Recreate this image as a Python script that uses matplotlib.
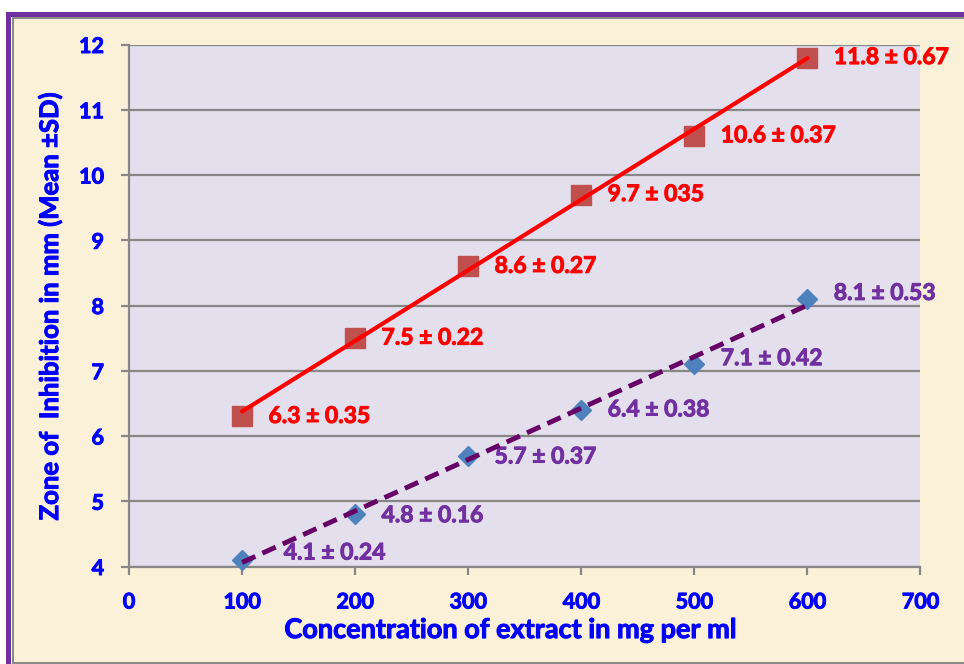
import numpy as np
import matplotlib.pyplot as plt
import matplotlib.patheffects as pe
from matplotlib.patches import Rectangle

# data
conc = [100, 200, 300, 400, 500, 600]
zone_red = [6.3, 7.5, 8.6, 9.7, 10.6, 11.8]
sd_red = ["0.35", "0.22", "0.27", "035", "0.37", "0.67"]
zone_purple = [4.1, 4.8, 5.7, 6.4, 7.1, 8.1]
sd_purple = ["0.24", "0.16", "0.37", "0.38", "0.42", "0.53"]

plt.rcParams['font.family'] = ['Lato', 'DejaVu Sans']
WT = 'bold'

def heavy(color):
    # thin same-colour outline to get a heavier look
    return [pe.withStroke(linewidth=0.7, foreground=color)]

W, H = 964, 664
fig = plt.figure(figsize=(W / 100, H / 100), dpi=100, facecolor='white')

def px(x0, y0, w, h, **kw):
    # rectangle in pixel units, y from the top, drawn behind the axes
    fig.patches.append(Rectangle((x0 / W, 1 - (y0 + h) / H), w / W, h / H,
                                 transform=fig.transFigure, zorder=-5, **kw))

# parchment background with purple / gray frame
px(12, 16, W - 12, H - 16, facecolor='#FBF0D8', edgecolor='none')
px(6, 12, W - 6, 5, facecolor='#7030A0', edgecolor='none')
px(6, 12, 5, H - 12, facecolor='#7030A0', edgecolor='none')
px(12, 17, W - 12, 1.5, facecolor='#8A8A8A', edgecolor='none')
px(12, 17, 1.5, H - 17, facecolor='#8A8A8A', edgecolor='none')
px(12, H - 2, W - 12, 2, facecolor='#8A8A8A', edgecolor='none')

ax = fig.add_axes([129 / W, 1 - 566.5 / H, (920.5 - 129) / W, (566.5 - 44.5) / H])
ax.set_facecolor('#E4DFEC')
ax.set_xlim(0, 700)
ax.set_ylim(4, 12)
ax.set_xticks(range(0, 701, 100))
ax.set_yticks(range(4, 13))
ax.grid(axis='y', color='#878787', linewidth=1.6)
ax.set_axisbelow(True)
for s in ['top', 'right']:
    ax.spines[s].set_visible(False)
for s in ['left', 'bottom']:
    ax.spines[s].set_color('#878787')
    ax.spines[s].set_linewidth(1.6)
ax.tick_params(colors='#878787', length=6, width=1.6, direction='out')
ax.tick_params(axis='y', labelcolor='#0000FF', labelsize=15.5, pad=12)
ax.tick_params(axis='x', labelcolor='#0000FF', labelsize=15.5, pad=12)
for lbl in ax.get_xticklabels() + ax.get_yticklabels():
    lbl.set_fontweight(WT)
    lbl.set_path_effects(heavy('#0000FF'))

ax.set_xlabel('Concentration of extract in mg per ml', color='#0000FF',
              fontsize=19.5, fontweight=WT, labelpad=4,
              path_effects=heavy('#0000FF'))
ax.xaxis.label.set_x(0.482)  # title sits a bit left of centre
ax.set_ylabel('Zone of  Inhibition in mm (Mean \u00b1SD)', color='#0000FF',
              fontsize=18.5, fontweight=WT, labelpad=12,
              path_effects=heavy('#0000FF'))

x = np.array(conc)

# markers
ax.plot(x, zone_red, 's', color='#C0504D', markersize=14, zorder=3, clip_on=False)
ax.plot(x, zone_purple, 'D', color='#4F81BD', markersize=10, zorder=3, clip_on=False)

# linear trendlines
for ys, style, col, lw in [(zone_red, '-', '#FF0000', 3),
                           (zone_purple, (0, (3, 1.6)), '#660066', 3.5)]:
    k, b = np.polyfit(x, ys, 1)
    ax.plot(x[[0, -1]], k * x[[0, -1]] + b, linestyle=style, color=col,
            linewidth=lw, zorder=4, solid_capstyle='round', dash_capstyle='butt')

# value labels
for xi, yi, sd in zip(conc, zone_red, sd_red):
    ax.annotate(f'{yi} \u00b1 {sd}', (xi, yi), xytext=(19, 0), textcoords='offset points',
                ha='left', va='center', color='#FF0000', fontsize=16.5, fontweight=WT,
                path_effects=heavy('#FF0000'))
purple_offsets = [(30, 5), (19, -1), (19, -1), (19, 0), (19, 4), (19, 4)]
for xi, yi, sd, off in zip(conc, zone_purple, sd_purple, purple_offsets):
    ax.annotate(f'{yi} \u00b1 {sd}', (xi, yi), xytext=off, textcoords='offset points',
                ha='left', va='center', color='#7030A0', fontsize=16.5, fontweight=WT,
                path_effects=heavy('#7030A0'))

fig.savefig('out.png', dpi=100)
